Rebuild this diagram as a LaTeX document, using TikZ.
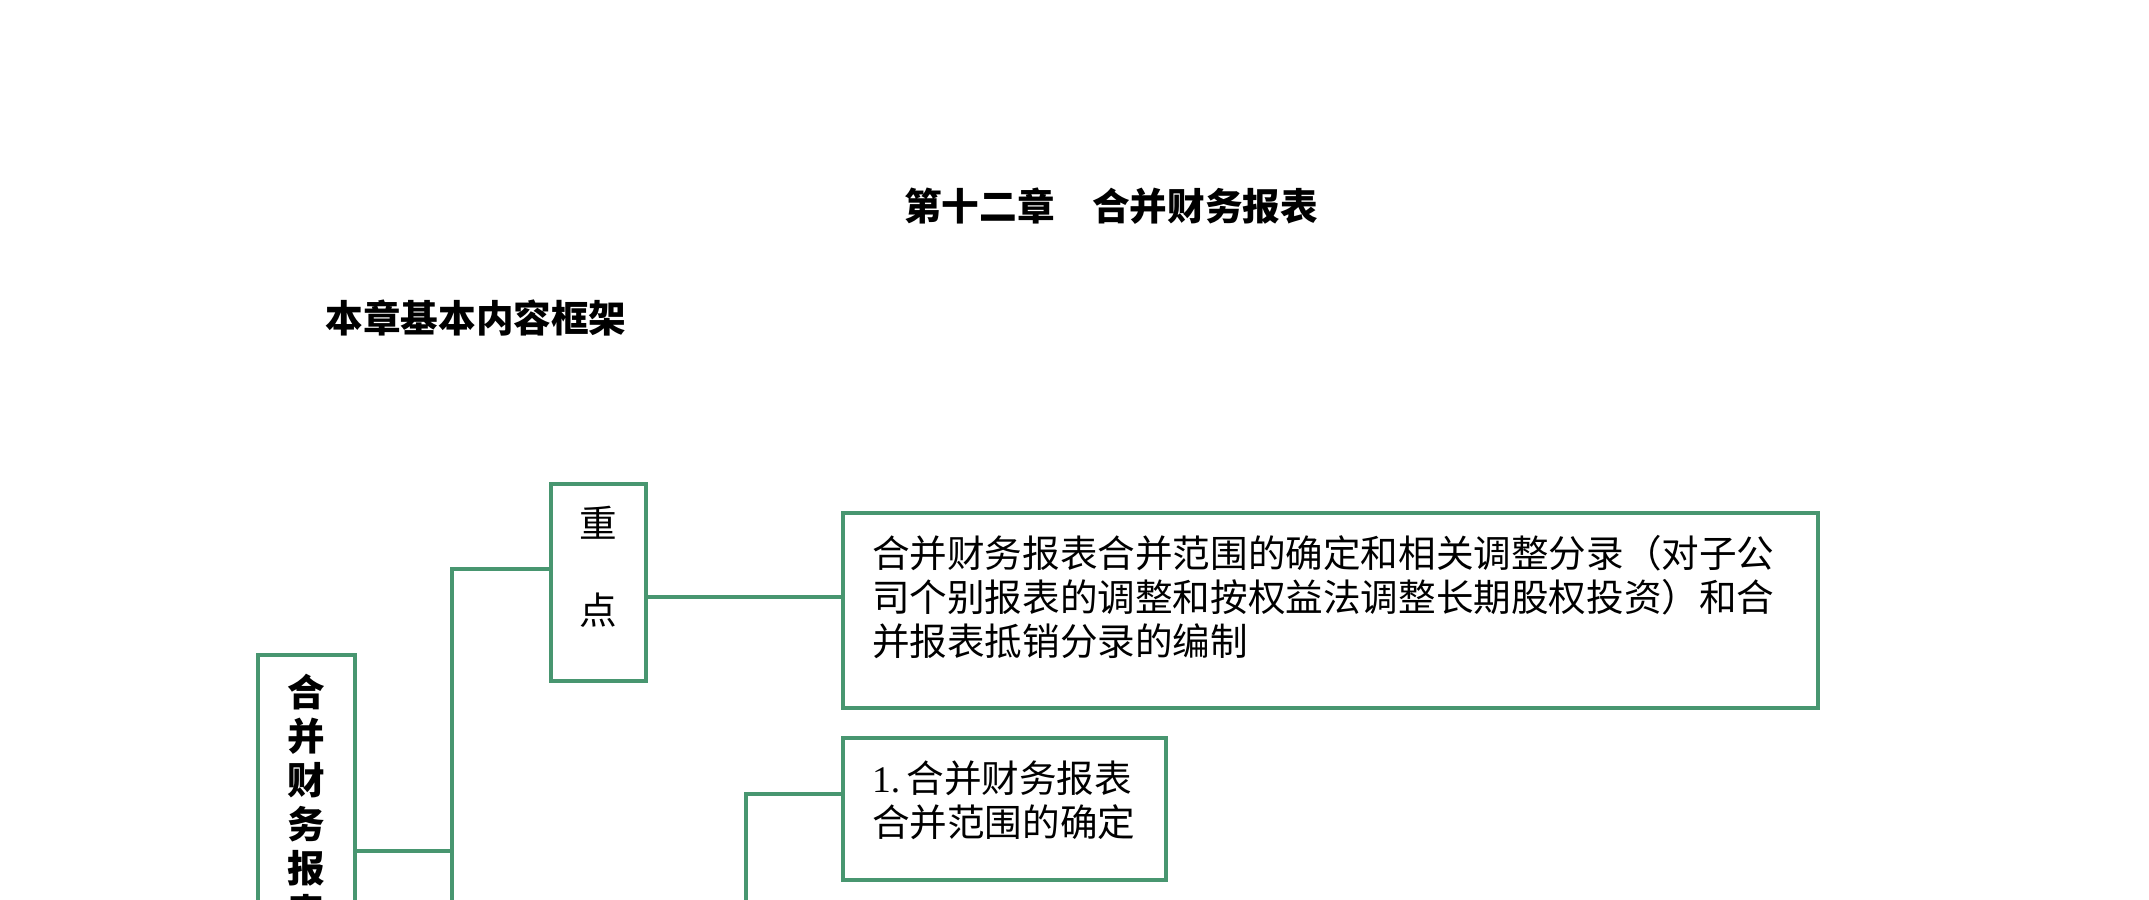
\documentclass[tikz,border=0pt]{standalone}
\usepackage{fontspec}
\usepackage{tikz}
\usepackage{xcolor}
\setmainfont{Liberation Serif}
\newfontfamily\cjk{Noto Sans CJK SC}
\definecolor{kjgreen}{RGB}{72,150,112}

\begin{document}
\begin{tikzpicture}[x=0.5pt,y=0.5pt,yscale=-1,
    box/.style={draw=kjgreen, line width=2pt, outer sep=0pt, anchor=north west, align=left,
      inner xsep=14.5pt, inner ysep=10pt, text height=17pt,
      font=\cjk\fontsize{18.8pt}{22pt}\selectfont},
    upright/.style={box, align=center, inner xsep=0pt, text width=47.5pt},
    link/.style={draw=kjgreen, line width=2pt},
    heading/.style={font=\cjk\bfseries\fontsize{18.8pt}{22pt}\selectfont}]
    \useasboundingbox (0,0) rectangle (2149,900);
    \clip (0,0) rectangle (2149,900);

    % Text Node
    \node [heading] (title) at (1111,206) {第十二章　合并财务报表};
    % Text Node
    \node [heading] (frame) at (476,318) {本章基本内容框架};

    %Shape: Rectangle
    \node [upright, font=\cjk\bfseries\fontsize{18.8pt}{22pt}\selectfont, text width=48.5pt, text height=15.5pt, text depth=150pt] (hb) at (258,655) {合\\并\\财\\务\\报\\表};
    %Shape: Rectangle
    \node [upright, text height=16.5pt, text depth=62pt] (zd) at (551,484) {重\\[21.5pt]点};
    %Shape: Rectangle
    \node [box, text width=458.5pt, text depth=60.5pt] (desc) at (843,513) {合并财务报表合并范围的确定和相关调整分录（对子公\\司个别报表的调整和按权益法调整长期股权投资）和合\\并报表抵销分录的编制};
    %Shape: Rectangle
    \node [box, text width=132.5pt, text depth=34pt] (one) at (843,738) {\mbox{\textrm{1.}\,合并财务报表}\\合并范围的确定};

    \coordinate (topA) at (452,569);
    \coordinate (junA) at (452,851);
    \coordinate (endA) at (452,960);
    \coordinate (topB) at (746,794);
    \coordinate (endB) at (746,960);

    %Straight Lines
    \draw [link] (hb.east |- junA) -- (junA);
    \draw [link] (zd.west |- topA) -- (topA) -- (endA);
    \draw [link] (zd.east |- 0,597) -- (desc.west |- 0,597);
    \draw [link] (one.west |- topB) -- (topB) -- (endB);
\end{tikzpicture}
\end{document}
